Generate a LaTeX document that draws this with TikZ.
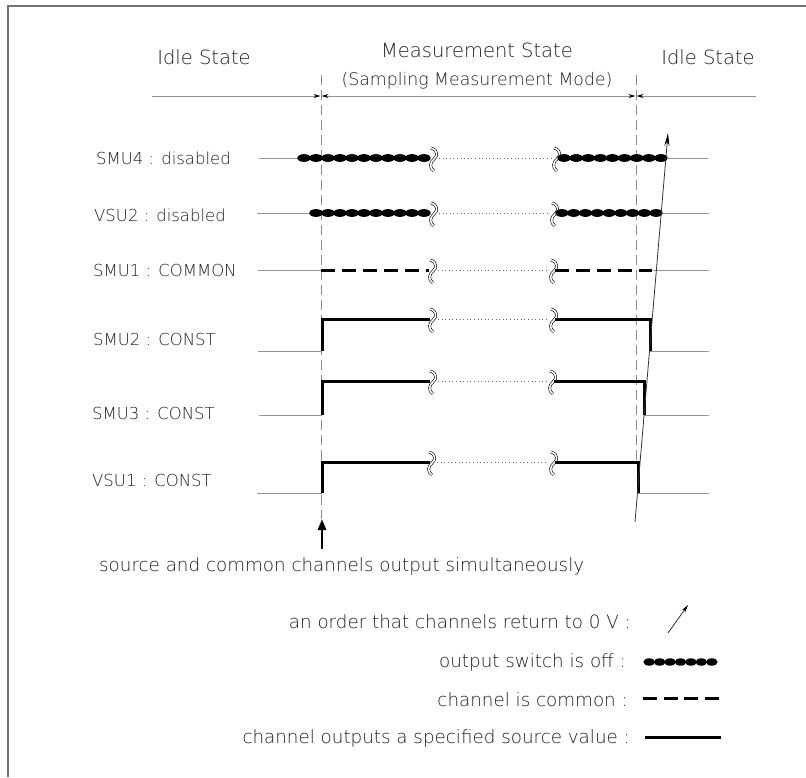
\documentclass[tikz,border=0pt]{standalone}
\usepackage{fontspec}
\IfFontExistsTF{DejaVuSans-ExtraLight.ttf}{\setmainfont{DejaVuSans-ExtraLight.ttf}}{\setmainfont{DejaVu Sans}}
\usetikzlibrary{arrows.meta}
\definecolor{txt}{gray}{0.12}
\definecolor{thingray}{gray}{0.58}
\tikzset{
  lbl/.style={font=\fontsize{16.5}{18}\selectfont, text=txt, inner sep=0pt, anchor=west},
  hdr/.style={font=\fontsize{19.5}{22}\selectfont, text=txt, inner sep=0pt},
  note/.style={font=\fontsize{18.3}{21}\selectfont, text=txt, inner sep=0pt},
  thinln/.style={draw=thingray, line width=0.9pt},
  srcln/.style={draw=black, line width=3pt, line join=miter},
  comln/.style={draw=black, line width=3pt, dash pattern=on 14pt off 7pt},
  dotln/.style={draw=black!60, line width=0.6pt, dash pattern=on 1pt off 2.6pt},
  vdash/.style={draw=black!45, line width=0.8pt, dash pattern=on 10pt off 5pt},
  brk/.style={draw=black, double=white, double distance=1.6pt, line width=0.6pt},
  hdrln/.style={draw=thingray, line width=0.9pt},
}
\newcommand{\brkmark}[2]{%
  \draw[brk] (#1-2,#2-10) .. controls (#1+5,#2-8) and (#1+5,#2-2) .. (#1+1,#2+1)
    .. controls (#1-3,#2+4) and (#1-4,#2+10) .. (#1+1,#2+13);}
\newcommand{\beadrow}[5]{% x0, x1, y, n, yradius
  \pgfmathsetmacro{\bp}{(#2-#1)/#4}%
  \pgfmathsetmacro{\br}{0.56*\bp}%
  \foreach \k in {1,...,#4} {
    \fill[black] ({#1+(\k-0.5)*\bp}, #3) ellipse [x radius=\br pt, y radius=#5 pt];
  }}
\begin{document}
\begin{tikzpicture}[x=1pt,y=-1pt]
\useasboundingbox (0,0) rectangle (806,777);
% frame
\draw[line width=1.3pt, draw=black!55] (8,777) -- (8,6) -- (806,6);

% header
\node[hdr] (idleL) at (204,57) {Idle State};
\node[hdr] (meas) at (477,50) {Measurement State};
\node[hdr, font=\fontsize{17.3}{20}\selectfont] (samp) at (477,81) {(Sampling Measurement Mode)};
\node[hdr] (idleR) at (708,57) {Idle State};

\coordinate (hA) at (152,96);
\coordinate (hB) at (320.5,96);
\coordinate (hC) at (321.5,96);
\coordinate (hD) at (635.5,96);
\coordinate (hE) at (636.5,96);
\coordinate (hF) at (756,96);
\draw[hdrln, -{Stealth[black,length=7pt,width=4pt]}] (hA) -- (hB);
\draw[hdrln, {Stealth[black,length=7pt,width=4pt]}-{Stealth[black,length=7pt,width=4pt]}] (hC) -- (hD);
\draw[hdrln, {Stealth[black,length=7pt,width=4pt]}-] (hE) -- (hF);

% vertical dashed lines
\coordinate (vLt) at (321,75);
\coordinate (vLb) at (321,519);
\coordinate (vRt) at (636,75);
\coordinate (vRb) at (636,462);
\draw[vdash] (vLt) -- (vLb);
\draw[vdash] (vRt) -- (vRb);

% labels
\node[lbl] (smu4) at (96,158) {SMU4 : disabled};
\node[lbl] (vsu2) at (94,215) {VSU2 : disabled};
\node[lbl] (smu1) at (93,270) {SMU1 : COMMON};
\node[lbl] (smu2) at (93,339) {SMU2 : CONST};
\node[lbl] (smu3) at (92,413) {SMU3 : CONST};
\node[lbl] (vsu1) at (92,480) {VSU1 : CONST};

% SMU4
\draw[thinln] (259,158) -- (298,158);
\beadrow{298}{430}{158}{11}{3.9}
\brkmark{433}{158}
\draw[dotln] (439,158) -- (551,158);
\brkmark{556}{158}
\beadrow{558}{667}{158}{9}{3.9}
\draw[thinln] (667,158) -- (708,158);

% VSU2
\draw[thinln] (257,213) -- (310,213);
\beadrow{310}{430}{213}{10}{3.9}
\brkmark{433}{213}
\draw[dotln] (439,213) -- (549,213);
\brkmark{554}{213}
\beadrow{556}{662}{213}{9}{3.9}
\draw[thinln] (662,213) -- (709,213);

% SMU1
\draw[thinln] (258,270) -- (321,270);
\draw[comln] (321,270) -- (429,270);
\brkmark{432}{270}
\draw[dotln] (438,270) -- (548,270);
\brkmark{553}{270}
\draw[comln] (555,270) -- (652,270);
\draw[thinln] (653,270) -- (709,270);

% SMU2
\draw[thinln] (258,351) -- (322,351);
\draw[srcln] (322,351) -- (322,319) -- (430,319);
\brkmark{432}{319}
\draw[dotln] (438,319) -- (548,319);
\brkmark{553}{319}
\draw[srcln] (555,319) -- (650,319) -- (650,351);
\draw[thinln] (650,351) -- (709,351);

% SMU3
\draw[thinln] (259,415) -- (322,415);
\draw[srcln] (322,415) -- (322,381) -- (430,381);
\brkmark{432}{381}
\draw[dotln] (438,381) -- (547,381);
\brkmark{552}{381}
\draw[srcln] (554,381) -- (644,381) -- (644,415);
\draw[thinln] (644,415) -- (709,415);

% VSU1
\draw[thinln] (257,493) -- (322,493);
\draw[srcln] (322,493) -- (322,462) -- (430,462);
\brkmark{431}{462}
\draw[dotln] (437,462) -- (548,462);
\brkmark{553}{462}
\draw[srcln] (555,462) -- (638,462) -- (638,493);
\draw[thinln] (638,493) -- (709,493);

% order arrow
\coordinate (ordA) at (635,522);
\coordinate (ordB) at (668,133);
\draw[draw=black!80, line width=0.8pt, -{Stealth[black,length=13pt,width=5pt]}] (ordA) -- (ordB);

% source arrow
\coordinate (srcA) at (322,549);
\coordinate (srcB) at (322,519);
\draw[black, line width=2.8pt, -{Triangle[length=11pt,width=8pt]}] (srcA) -- (srcB);

\node[note, anchor=west] (srcnote) at (99,566) {source and common channels output simultaneously};

% legend
\node[note, anchor=east] (lg1) at (631,622) {an order that channels return to 0 V :};
\coordinate (lgA) at (668,633);
\coordinate (lgB) at (688,605);
\draw[draw=black!80, line width=0.8pt, -{Stealth[black,length=8pt,width=4pt]}] (lgA) -- (lgB);

\node[note, anchor=east] (lg2) at (626,662) {output switch is off :};
\beadrow{644}{717}{662}{7}{3.7}

\node[note, anchor=east] (lg3) at (628,700) {channel is common :};
\coordinate (lg3a) at (643,698);
\coordinate (lg3b) at (719,698);
\draw[black, line width=3pt, dash pattern=on 14pt off 6.7pt] (lg3a) -- (lg3b);

\node[note, anchor=east] (lg4) at (630,738) {channel outputs a specified source value :};
\coordinate (lg4a) at (645,737);
\coordinate (lg4b) at (721,737);
\draw[srcln] (lg4a) -- (lg4b);
\end{tikzpicture}
\end{document}
